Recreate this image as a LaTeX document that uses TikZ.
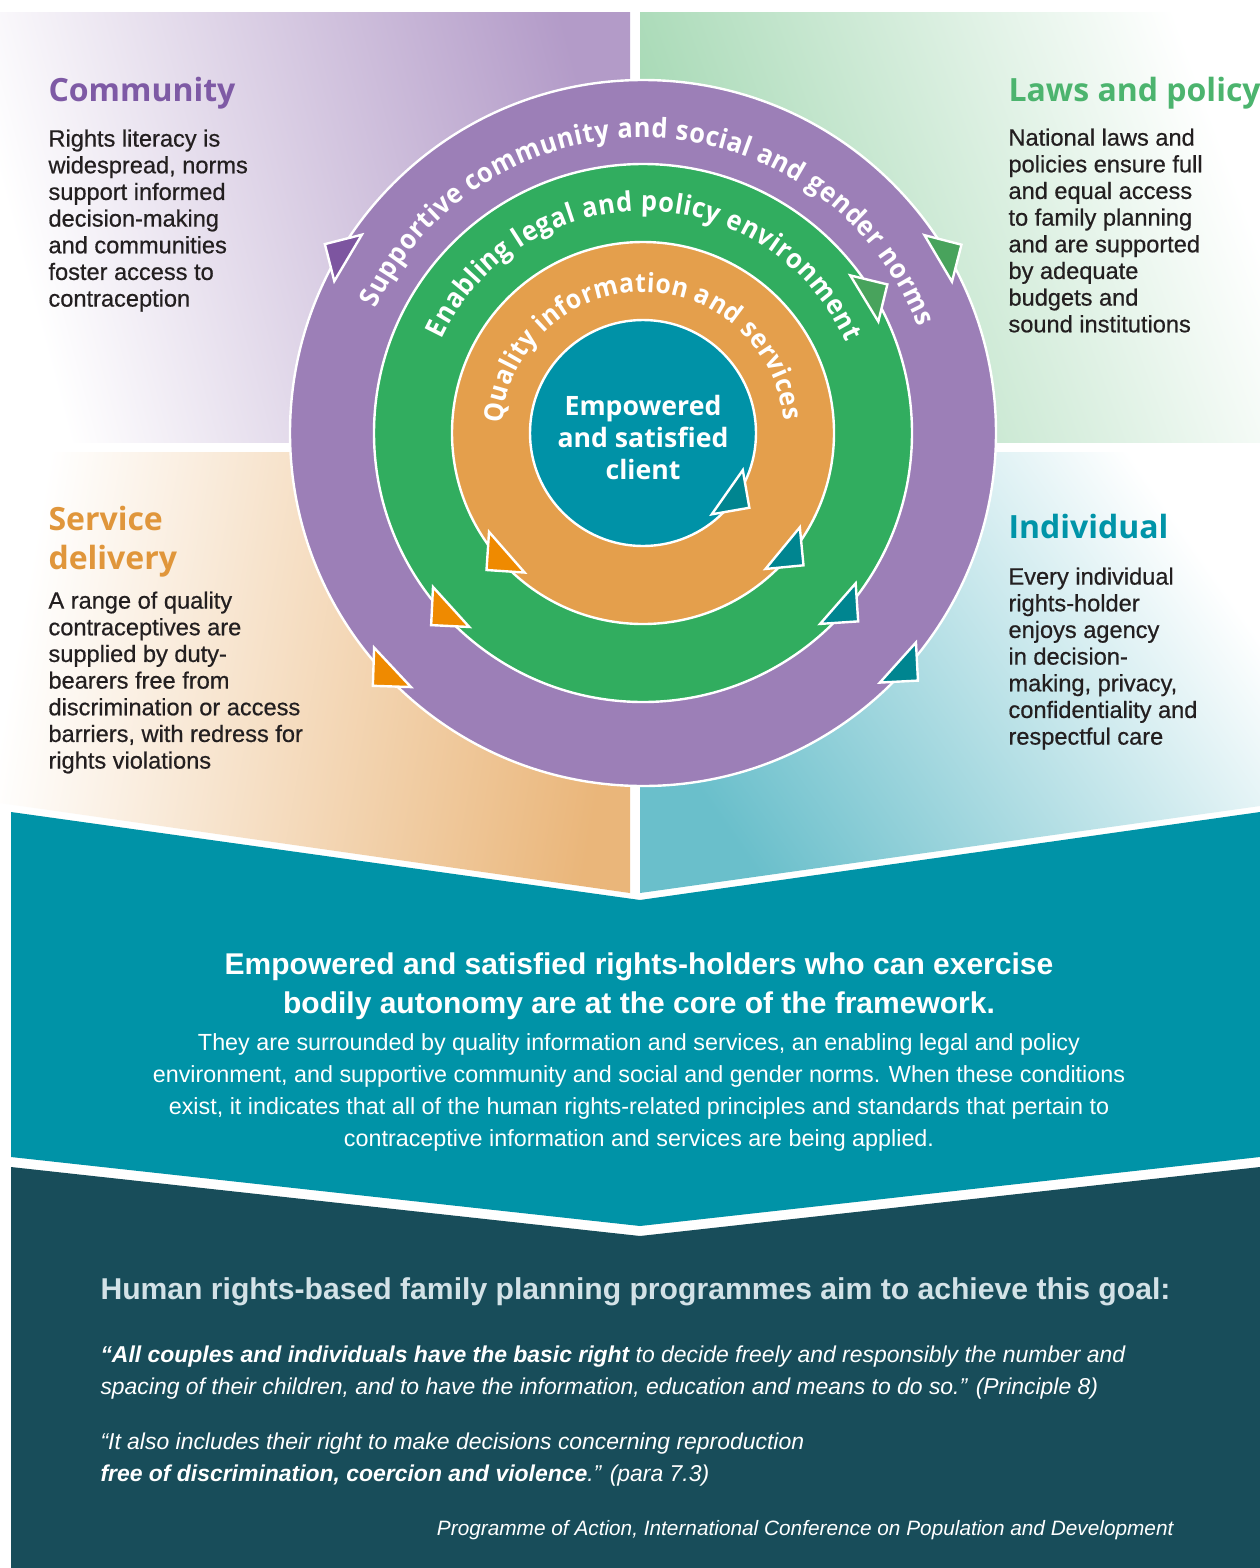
\documentclass[tikz,border=0pt]{standalone}
\usepackage{fontspec}
\setmainfont{Liberation Sans}
\newfontfamily\headfont{Open Sans}
\newfontfamily\ringfont[FakeStretch=0.93]{Open Sans}
\newfontfamily\bodyfont[FakeBold=0.6]{Liberation Sans}
\usetikzlibrary{decorations.text}
\newcommand\ringbig{\ringfont\bfseries\fontsize{20.5}{20.5}\selectfont}
\newcommand\ringsmall{\ringfont\bfseries\fontsize{20}{20}\selectfont}

\definecolor{ringPurple}{HTML}{9C7FB7}
\definecolor{ringGreen}{HTML}{31AD5F}
\definecolor{ringOrange}{HTML}{E49F4C}
\definecolor{coreTeal}{HTML}{0092A7}
\definecolor{bandTeal}{HTML}{0093A7}
\definecolor{bandDark}{HTML}{184D5A}
\definecolor{titlePurple}{HTML}{7E5AA5}
\definecolor{titleGreen}{HTML}{4CB46E}
\definecolor{titleOrange}{HTML}{E0963B}
\definecolor{titleTeal}{HTML}{0094A8}
\definecolor{bodyInk}{HTML}{231F20}
\definecolor{goalInk}{HTML}{D3E2E7}
\definecolor{tipPurple}{HTML}{7D55A0}
\definecolor{tipGreen}{HTML}{48A35C}
\definecolor{tipOrange}{HTML}{EF8A00}
\definecolor{tipTeal}{HTML}{008590}
\definecolor{fadePurple}{HTML}{B39BC8}
\definecolor{fadeGreen}{HTML}{A2D7B1}
\definecolor{fadeOrange}{HTML}{EAB67A}
\definecolor{fadeTeal}{HTML}{6ABFCB}

\tikzset{every picture/.style={line width=0.75pt}}
\tikzset{
  ringedge/.style={draw=white, line width=1.8pt},
  ringtip/.style={draw=white, line width=1.8pt, line join=miter},
  panel title/.style={anchor=north west, inner sep=0pt, align=left, font=\headfont\bfseries\fontsize{24}{29}\selectfont},
  panel text/.style={anchor=north west, inner sep=0pt, align=left, text=bodyInk, font=\bodyfont\fontsize{17.7}{20}\selectfont},
  ring label/.style={decorate, decoration={text along path, text align={fit to path}, text color=white, text={#1}}},
}

\begin{document}
\begin{tikzpicture}[x=0.75pt,y=0.75pt,yscale=-1,xscale=1]
\useasboundingbox (0,0) rectangle (1260,1568);
\fill[white] (0,0) rectangle (1260,1568);

% Panels
\shade[left color=white, right color=fadePurple, shading angle=105] (0,12) rectangle (630,442);
\shade[left color=fadeGreen, right color=white, shading angle=110] (640,12) rectangle (1260,442);
\shade[left color=white, right color=fadeOrange, shading angle=80] (0,452) -- (630,452) -- (630,893) -- (0,803) -- cycle;
\shade[left color=fadeTeal, right color=white, shading angle=125] (640,452) -- (1260,452) -- (1260,806) -- (640,893) -- cycle;

% Bands
\fill[bandTeal] (11,812) -- (640,900) -- (1260,812) -- (1260,1157) -- (640,1226) -- (11,1157) -- cycle;
\fill[bandDark] (11,1167) -- (640,1236) -- (1260,1167) -- (1260,1568) -- (11,1568) -- cycle;

% Rings
\filldraw[ringedge, fill=ringPurple] (643,433) circle [radius=353];
\filldraw[ringedge, fill=ringGreen] (643,433) circle [radius=269];
\filldraw[ringedge, fill=ringOrange] (643,433) circle [radius=191];
\filldraw[ringedge, fill=coreTeal] (643,433) circle [radius=113];

% Ring labels
\begin{scope}[shift={(643,433)}, yscale=-1]
\path[ring label={|\ringbig|Supportive community and social and gender norms}] (155:295) arc [start angle=155, end angle=21, radius=295];
\path[ring label={|\ringbig|Enabling legal and policy environment}] (155:222) arc [start angle=155, end angle=24, radius=222];
\path[ring label={|\ringsmall|Quality information and services}] (176:141) arc [start angle=176, end angle=5, radius=141];
\end{scope}

% Arrow tips
\filldraw[ringtip, fill=tipPurple, shift={(643,433)}, rotate=210.7] (343,-27) -- (343,27) -- (370,0) -- cycle;
\filldraw[ringtip, fill=tipGreen, shift={(643,433)}, rotate=329.4] (343,-27) -- (343,27) -- (370,0) -- cycle;
\filldraw[ringtip, fill=tipGreen, shift={(643,433)}, rotate=328.7] (259,-27) -- (259,27) -- (286,0) -- cycle;
\filldraw[ringtip, fill=tipOrange, shift={(643,433)}, rotate=136.9] (343,-27) -- (343,27) -- (370,0) -- cycle;
\filldraw[ringtip, fill=tipOrange, shift={(643,433)}, rotate=137.8] (259,-27) -- (259,27) -- (286,0) -- cycle;
\filldraw[ringtip, fill=tipOrange, shift={(643,433)}, rotate=138.8] (181,-27) -- (181,27) -- (208,0) -- cycle;
\filldraw[ringtip, fill=tipTeal, shift={(643,433)}, rotate=35.1] (103,-27) -- (103,27) -- (130,0) -- cycle;
\filldraw[ringtip, fill=tipTeal, shift={(643,433)}, rotate=39.5] (181,-27) -- (181,27) -- (208,0) -- cycle;
\filldraw[ringtip, fill=tipTeal, shift={(643,433)}, rotate=41.2] (259,-27) -- (259,27) -- (286,0) -- cycle;
\filldraw[ringtip, fill=tipTeal, shift={(643,433)}, rotate=42] (343,-27) -- (343,27) -- (370,0) -- cycle;

% Text Node
\node[panel title, text=titlePurple] (community) at (48,77) {Community};
% Text Node
\node[panel text] (communitytext) at (48,129) {Rights literacy is\\widespread, norms\\support informed\\decision-making\\and communities\\foster access to\\contraception};
% Text Node
\node[panel title, text=titleGreen] (laws) at (1008,77) {Laws and policy};
% Text Node
\node[panel text] (lawstext) at (1008,128) {National laws and\\policies ensure full\\and equal access\\to family planning\\and are supported\\by adequate\\budgets and\\sound institutions};
% Text Node
\node[panel title, text=titleOrange] (service) at (48,506) {Service\\delivery};
% Text Node
\node[panel text] (servicetext) at (48,591) {A range of quality\\contraceptives are\\supplied by duty-\\bearers free from\\discrimination or access\\barriers, with redress for\\rights violations};
% Text Node
\node[panel title, text=titleTeal] (individual) at (1008,514) {Individual};
% Text Node
\node[panel text] (individualtext) at (1008,567) {Every individual\\rights-holder\\enjoys agency\\in decision-\\making, privacy,\\confidentiality and\\respectful care};
% Text Node
\node[anchor=north, inner sep=0pt, align=center, text=white, font=\headfont\bfseries\fontsize{20}{23.8}\selectfont] (client) at (643,395) {Empowered\\and satisfied\\client};
% Text Node
\node[anchor=north, inner sep=0pt, align=center, text=white, font=\bfseries\fontsize{22.5}{29.6}\selectfont] (corehead) at (639,952) {Empowered and satisfied rights-holders who can exercise\\bodily autonomy are at the core of the framework.};
% Text Node
\node[anchor=north, inner sep=0pt, align=center, text=white, font=\fontsize{17.5}{24}\selectfont] (coretext) at (639,1033) {They are surrounded by quality information and services, an enabling legal and policy\\environment, and supportive community and social and gender norms. When these conditions\\exist, it indicates that all of the human rights-related principles and standards that pertain to\\contraceptive information and services are being applied.};
% Text Node
\node[anchor=base west, inner sep=0pt, text=goalInk, font=\bfseries\fontsize{22.6}{27}\selectfont] (goalhead) at (100,1299) {Human rights-based family planning programmes aim to achieve this goal:};
% Text Node
\node[anchor=north west, inner sep=0pt, align=left, text=white, font=\itshape\fontsize{17.2}{24}\selectfont] (quoteone) at (100,1345) {\textbf{“All couples and individuals have the basic right} to decide freely and responsibly the number and\\spacing of their children, and to have the information, education and means to do so.” (Principle 8)};
% Text Node
\node[anchor=north west, inner sep=0pt, align=left, text=white, font=\itshape\fontsize{17.2}{24}\selectfont] (quotetwo) at (100,1432) {“It also includes their right to make decisions concerning reproduction\\\textbf{free of discrimination, coercion and violence}.” (para 7.3)};
% Text Node
\node[anchor=base east, inner sep=0pt, text=white, font=\itshape\fontsize{15.6}{18}\selectfont] (source) at (1174,1535) {Programme of Action, International Conference on Population and Development};

\end{tikzpicture}
\end{document}
